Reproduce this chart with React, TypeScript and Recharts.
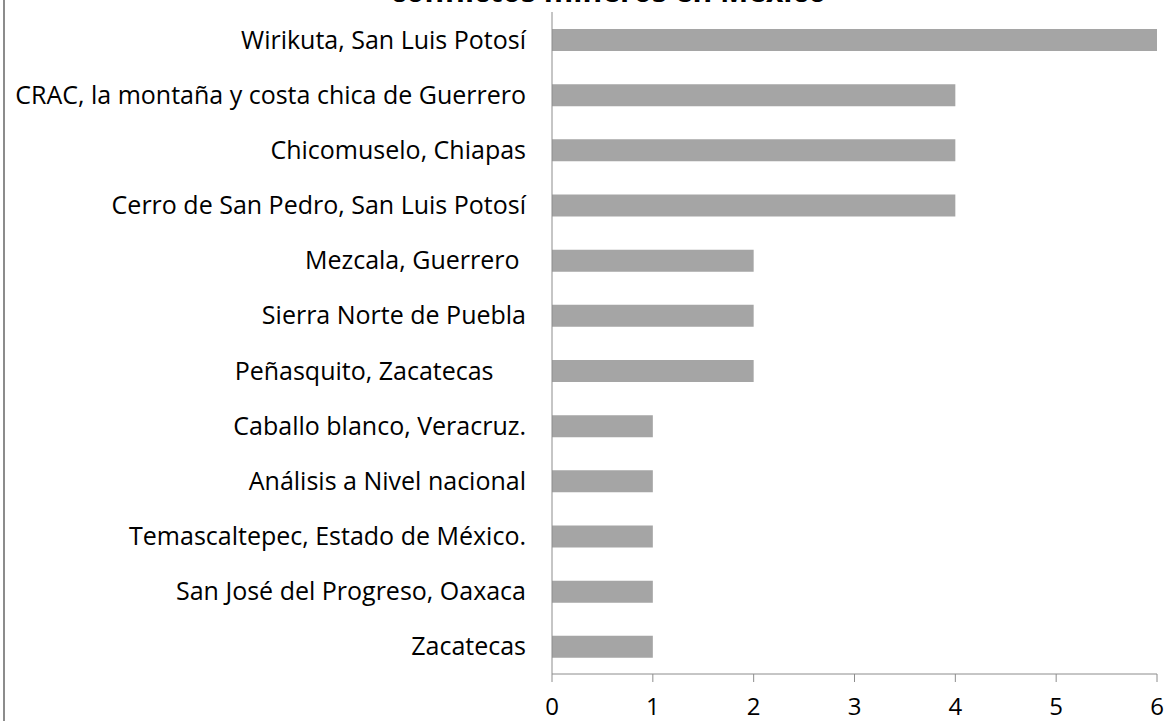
import React from "react";
import { BarChart, Bar, XAxis, YAxis } from "recharts";

const places = [
  "Wirikuta, San Luis Potosí",
  "CRAC, la montaña y costa chica de Guerrero",
  "Chicomuselo, Chiapas",
  "Cerro de San Pedro, San Luis Potosí",
  "Mezcala, Guerrero ",
  "Sierra Norte de Puebla",
  "Peñasquito, Zacatecas     ",
  "Caballo blanco, Veracruz.",
  "Análisis a Nivel nacional",
  "Temascaltepec, Estado de México.",
  "San José del Progreso, Oaxaca",
  "Zacatecas",
];
const counts = [6, 4, 4, 4, 2, 2, 2, 1, 1, 1, 1, 1];
const xTicks = [0, 1, 2, 3, 4, 5, 6];

const data = places.map((name, i) => ({ name, value: counts[i] }));

const FONT = "'Open Sans', sans-serif";

const PlaceTick = (props: any) => {
  const { x, y, payload } = props;
  return (
    <text
      x={x - 18}
      y={y}
      dy={9}
      textAnchor="end"
      fontFamily={FONT}
      fontSize={25}
      fill="#000"
      style={{ whiteSpace: "pre" }}
    >
      {payload.value}
    </text>
  );
};

const ValueTick = (props: any) => {
  const { x, y, payload } = props;
  return (
    <text
      x={x}
      y={y}
      dy={17}
      textAnchor="middle"
      fontFamily={FONT}
      fontSize={24}
      fill="#000"
    >
      {payload.value}
    </text>
  );
};

export default function App() {
  return (
    <div
      style={{
        position: "absolute",
        left: 0,
        top: 0,
        width: 1167,
        height: 721,
        overflow: "hidden",
        background: "#fff",
      }}
    >
      <div
        style={{
          position: "absolute",
          left: 3,
          top: 0,
          width: 2,
          height: 721,
          background: "#8c8c8c",
        }}
      />
      <div
        style={{
          position: "absolute",
          left: 0,
          width: 1217,
          top: -25,
          textAlign: "center",
          fontFamily: FONT,
          fontWeight: "bold",
          fontSize: 30,
          lineHeight: "32px",
        }}
      >
        conflictos mineros en México
      </div>
      <BarChart
        width={1167}
        height={721}
        data={data}
        layout="vertical"
        margin={{ top: 12, right: 10, bottom: 0, left: 0 }}
      >
        <XAxis
          type="number"
          domain={[0, 6]}
          ticks={xTicks}
          interval={0}
          height={47}
          stroke="#8c8c8c"
          tickSize={8}
          tickMargin={16}
          tick={<ValueTick />}
        />
        <YAxis
          type="category"
          dataKey="name"
          width={552}
          stroke="#8c8c8c"
          tickLine={false}
          interval={0}
          tick={<PlaceTick />}
        />
        <Bar dataKey="value" fill="#a5a5a5" barSize={22} isAnimationActive={false} />
      </BarChart>
    </div>
  );
}
